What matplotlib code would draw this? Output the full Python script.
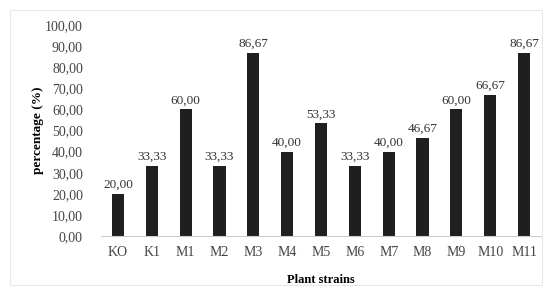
import matplotlib.pyplot as plt
from matplotlib.patches import Rectangle

strains = ['KO', 'K1', 'M1', 'M2', 'M3', 'M4', 'M5', 'M6', 'M7', 'M8', 'M9', 'M10', 'M11']
percentage = [20.00, 33.33, 60.00, 33.33, 86.67, 40.00, 53.33, 33.33, 40.00, 46.67, 60.00, 66.67, 86.67]
yticks = [0, 10, 20, 30, 40, 50, 60, 70, 80, 90, 100]

plt.rcParams['font.family'] = ['Liberation Serif', 'DejaVu Serif']

fig = plt.figure(figsize=(5.45, 2.9), dpi=100)
# faint chart-area border
fig.patches.append(Rectangle((10 / 545, 5 / 290), 532 / 545, 275 / 290, transform=fig.transFigure,
                             fill=False, edgecolor='#e8e8e8', linewidth=0.8))

ax = fig.add_axes([101 / 545, 54 / 290, 440 / 545, 211 / 290])
x = list(range(len(strains)))
ax.bar(x, percentage, width=0.36, color='#1f1f1f')

for xi, v in zip(x, percentage):
    ax.text(xi, v + 1.5, f"{v:.2f}".replace('.', ','), ha='center', va='bottom',
            fontsize=9.5, color='#333333')

ax.set_xlim(-0.5, len(strains) - 0.5)
ax.set_ylim(0, 100)
ax.set_yticks(yticks)
ax.set_yticklabels([f"{t:.2f}".replace('.', ',') for t in yticks], fontsize=10, color='#444444')
ax.set_xticks(x)
ax.set_xticklabels(strains, fontsize=10, color='#444444')
ax.tick_params(axis='x', length=0, pad=7)
ax.tick_params(axis='y', length=0, pad=13)

for s in ['top', 'right', 'left']:
    ax.spines[s].set_visible(False)
ax.spines['bottom'].set_color('#cccccc')
ax.spines['bottom'].set_linewidth(0.8)

ax.set_xlabel('Plant strains', fontsize=9, fontweight='bold', labelpad=11)
ax.set_ylabel('percentage (%)', fontsize=9.5, fontweight='bold', labelpad=1)

fig.savefig('out.png', dpi=100)
